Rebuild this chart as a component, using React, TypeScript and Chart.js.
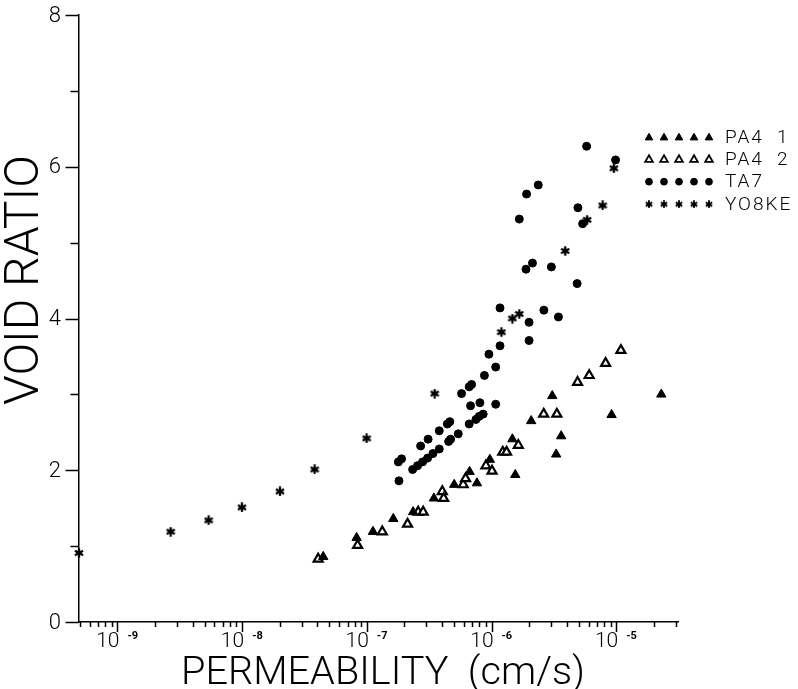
import React, { useEffect, useRef } from 'react';
import { Chart, registerables } from 'chart.js';
import { drawPoint } from 'chart.js/helpers';

Chart.register(...registerables);

// ---- data (permeability in cm/s, void ratio) ----
const pa41Perm = [4.47e-8, 8.28e-8, 1.12e-7, 1.63e-7, 2.35e-7, 3.45e-7, 5.02e-7, 6.67e-7, 7.64e-7, 9.7e-7, 1.47e-6, 1.55e-6, 2.08e-6, 3.07e-6, 3.3e-6, 3.62e-6, 9.18e-6, 2.3e-5];
const pa41Void = [0.86, 1.11, 1.19, 1.36, 1.45, 1.63, 1.81, 1.98, 1.83, 2.14, 2.41, 1.94, 2.65, 2.98, 2.21, 2.45, 2.73, 3.0];

const pa42Perm = [4.07e-8, 8.43e-8, 1.33e-7, 2.12e-7, 2.58e-7, 2.83e-7, 4.03e-7, 4.13e-7, 5.93e-7, 6.19e-7, 9.02e-7, 1.01e-6, 1.23e-6, 1.32e-6, 1.64e-6, 2.62e-6, 3.34e-6, 4.9e-6, 6.07e-6, 8.22e-6, 1.09e-5];
const pa42Void = [0.83, 1.01, 1.19, 1.29, 1.45, 1.45, 1.72, 1.63, 1.81, 1.89, 2.06, 1.99, 2.24, 2.24, 2.33, 2.74, 2.74, 3.16, 3.25, 3.41, 3.58];

const ta7Perm = [5.79e-6, 9.88e-6, 2.37e-6, 1.91e-6, 4.93e-6, 1.67e-6, 5.38e-6, 2.13e-6, 1.89e-6, 3.02e-6, 4.86e-6, 1.17e-6, 2.63e-6, 3.44e-6, 2.0e-6, 2.0e-6, 1.17e-6, 9.53e-7, 1.08e-6, 8.77e-7, 6.92e-7, 6.62e-7, 5.75e-7, 1.08e-6, 8.07e-7, 6.79e-7, 8.57e-7, 7.96e-7, 7.5e-7, 6.62e-7, 4.63e-7, 4.42e-7, 3.81e-7, 5.41e-7, 4.7e-7, 4.53e-7, 3.81e-7, 3.1e-7, 2.7e-7, 1.9e-7, 1.79e-7, 2.33e-7, 2.55e-7, 2.8e-7, 3.07e-7, 3.39e-7, 1.81e-7];
const ta7Void = [6.27, 6.09, 5.76, 5.64, 5.46, 5.31, 5.25, 4.73, 4.65, 4.68, 4.46, 4.14, 4.11, 4.02, 3.95, 3.71, 3.64, 3.53, 3.36, 3.25, 3.13, 3.10, 3.01, 2.87, 2.89, 2.85, 2.74, 2.71, 2.67, 2.61, 2.64, 2.61, 2.52, 2.48, 2.41, 2.38, 2.28, 2.41, 2.32, 2.15, 2.11, 2.01, 2.06, 2.11, 2.16, 2.22, 1.86];

const yo8kePerm = [4.91e-10, 2.67e-9, 5.38e-9, 9.96e-9, 2.01e-8, 3.81e-8, 9.95e-8, 3.5e-7, 1.2e-6, 1.47e-6, 1.67e-6, 3.9e-6, 5.85e-6, 7.78e-6, 9.57e-6];
const yo8keVoid = [0.91, 1.19, 1.34, 1.51, 1.72, 2.01, 2.42, 3.01, 3.82, 4.0, 4.06, 4.89, 5.30, 5.49, 5.98];

const seriesLabels = ['PA4  1', 'PA4  2', 'TA7', 'YO8KE'];
const xDecades = [-9, -8, -7, -6, -5];
const yTickValues = [0, 1, 2, 3, 4, 5, 6, 7, 8];
const yLabelValues = [0, 2, 4, 6, 8];
const xTitle = 'PERMEABILITY  (cm/s)';
const yTitle = 'VOID RATIO';

const FONT = 'Roboto, "Liberation Sans", Arial, sans-serif';
const light = (size: number) => `300 ${size}px ${FONT}`;

const zip = (xs: number[], ys: number[]) => xs.map((x, i) => ({ x, y: ys[i] }));

function makeAsterisk(size: number, lw: number, dot: number): HTMLCanvasElement {
  const c = document.createElement('canvas');
  c.width = size;
  c.height = size;
  const g = c.getContext('2d')!;
  g.strokeStyle = '#000';
  g.fillStyle = '#000';
  g.lineWidth = lw;
  g.lineCap = 'butt';
  const cx = size / 2;
  const r = size / 2 - 0.3;
  for (let i = 0; i < 3; i++) {
    const a = Math.PI / 2 + (i * Math.PI) / 3;
    g.beginPath();
    g.moveTo(cx + r * Math.cos(a), cx + r * Math.sin(a));
    g.lineTo(cx - r * Math.cos(a), cx - r * Math.sin(a));
    g.stroke();
  }
  g.beginPath();
  g.arc(cx, cx, dot, 0, Math.PI * 2);
  g.fill();
  return c;
}

function fitFont(ctx: CanvasRenderingContext2D, text: string, targetWidth: number, base: number) {
  ctx.font = light(base);
  const w = ctx.measureText(text).width;
  ctx.font = light(+(base * (targetWidth / w)).toFixed(2));
}

export default function App() {
  const ref = useRef<HTMLCanvasElement>(null);

  useEffect(() => {
    const canvas = ref.current;
    if (!canvas) return;
    const star = makeAsterisk(10, 2.3, 2.4);
    const starSmall = makeAsterisk(8, 1.9, 1.9);

    const styles: any[] = [
      { pointStyle: 'triangle', radius: 5.4, backgroundColor: '#000', borderColor: '#000', borderWidth: 1 },
      { pointStyle: 'triangle', radius: 5.2, backgroundColor: '#fff', borderColor: '#000', borderWidth: 2.2 },
      { pointStyle: 'circle', radius: 4, backgroundColor: '#000', borderColor: '#000', borderWidth: 1 },
      { pointStyle: star, radius: 5, backgroundColor: '#000', borderColor: '#000', borderWidth: 0 },
    ];
    const legendStyles: any[] = [
      { pointStyle: 'triangle', radius: 4.4, backgroundColor: '#000', borderColor: '#000', borderWidth: 1 },
      { pointStyle: 'triangle', radius: 4.4, backgroundColor: '#fff', borderColor: '#000', borderWidth: 1.8 },
      { pointStyle: 'circle', radius: 3.4, backgroundColor: '#000', borderColor: '#000', borderWidth: 1 },
      { pointStyle: starSmall, radius: 4, backgroundColor: '#000', borderColor: '#000', borderWidth: 0 },
    ];

    const sets = [zip(pa41Perm, pa41Void), zip(pa42Perm, pa42Void), zip(ta7Perm, ta7Void), zip(yo8kePerm, yo8keVoid)];

    const decoPlugin = {
      id: 'deco',
      afterDraw(chart: any) {
        const { ctx, chartArea } = chart;
        const xs = chart.scales.x;
        const ys = chart.scales.y;
        ctx.save();
        ctx.strokeStyle = '#000';
        ctx.fillStyle = '#000';
        ctx.lineWidth = 1.5;
        // x ticks (major at decades, minor 2..9)
        for (let d = -10; d <= -4; d++) {
          for (let m = 1; m <= 9; m++) {
            const v = m * Math.pow(10, d);
            if (v < xs.min * 0.999 || v > xs.max * 1.001) continue;
            const px = Math.round(xs.getPixelForValue(v)) + 0.5;
            ctx.beginPath();
            ctx.moveTo(px, chartArea.bottom);
            ctx.lineTo(px, chartArea.bottom + (m === 1 ? 10 : 5));
            ctx.stroke();
          }
        }
        // y ticks
        for (const v of yTickValues) {
          const py = Math.round(ys.getPixelForValue(v)) + 0.5;
          ctx.beginPath();
          ctx.moveTo(chartArea.left, py);
          ctx.lineTo(chartArea.left - (v % 2 === 0 ? 13 : 8), py);
          ctx.stroke();
        }
        // y labels
        ctx.font = light(22);
        ctx.textAlign = 'right';
        ctx.textBaseline = 'middle';
        for (const v of yLabelValues) {
          ctx.fillText(String(v), 61, ys.getPixelForValue(v) + 1);
        }
        // x labels 10^n
        ctx.textBaseline = 'alphabetic';
        for (const d of xDecades) {
          const px = xs.getPixelForValue(Math.pow(10, d));
          ctx.font = light(21);
          ctx.textAlign = 'right';
          ctx.fillText('10', px + 2, 647);
          ctx.font = `bold 11px ${FONT}`;
          ctx.textAlign = 'left';
          ctx.fillText('-' + String(-d), px + 10, 639);
        }
        // axis titles
        ctx.textAlign = 'left';
        fitFont(ctx, xTitle, 404, 38);
        ctx.fillText(xTitle, 181, 684);
        ctx.save();
        ctx.translate(38, 405);
        ctx.rotate(-Math.PI / 2);
        fitFont(ctx, yTitle, 250, 43);
        ctx.fillText(yTitle, 0, 0);
        ctx.restore();
        // legend
        const rowY = [137.7, 159.7, 181.7, 204.3];
        const markX = [649, 664, 679, 694, 709];
        for (let i = 0; i < 4; i++) {
          const st = legendStyles[i];
          for (const mx of markX) {
            ctx.fillStyle = st.backgroundColor;
            ctx.strokeStyle = st.borderColor;
            ctx.lineWidth = st.borderWidth;
            drawPoint(ctx, { pointStyle: st.pointStyle, rotation: 0, radius: st.radius, borderWidth: st.borderWidth }, mx, rowY[i]);
          }
          ctx.fillStyle = '#000';
          ctx.font = light(19);
          (ctx as any).letterSpacing = '2px';
          ctx.textAlign = 'left';
          ctx.textBaseline = 'middle';
          ctx.fillText(seriesLabels[i], 725, rowY[i] + 1);
          (ctx as any).letterSpacing = '0px';
        }
        ctx.restore();
      },
    };

    const chart = new Chart(canvas, {
      type: 'scatter',
      data: {
        datasets: sets.map((data, i) => ({
          label: seriesLabels[i],
          data,
          pointStyle: styles[i].pointStyle,
          pointRadius: styles[i].radius,
          pointBackgroundColor: styles[i].backgroundColor,
          pointBorderColor: styles[i].borderColor,
          pointBorderWidth: styles[i].borderWidth,
          clip: false as any,
        })),
      },
      options: {
        responsive: false,
        animation: false,
        devicePixelRatio: 1,
        layout: { padding: { left: 78.5, right: 120, top: 15, bottom: 67 } },
        plugins: { legend: { display: false }, tooltip: { enabled: false }, title: { display: false } },
        scales: {
          x: {
            type: 'logarithmic',
            min: 4.87e-10,
            max: 3.13e-5,
            grid: { display: false, drawTicks: false },
            border: { display: true, color: '#000', width: 1.5 },
            ticks: { display: false },
          },
          y: {
            type: 'linear',
            min: 0,
            max: 8,
            grid: { display: false, drawTicks: false },
            border: { display: true, color: '#000', width: 1.5 },
            ticks: { display: false },
          },
        },
      },
      plugins: [decoPlugin],
    });
    return () => chart.destroy();
  }, []);

  return (
    <div style={{ position: 'absolute', left: 0, top: 0, width: 798, height: 689, background: '#fff' }}>
      <canvas ref={ref} width={798} height={689} style={{ display: 'block' }} />
    </div>
  );
}
